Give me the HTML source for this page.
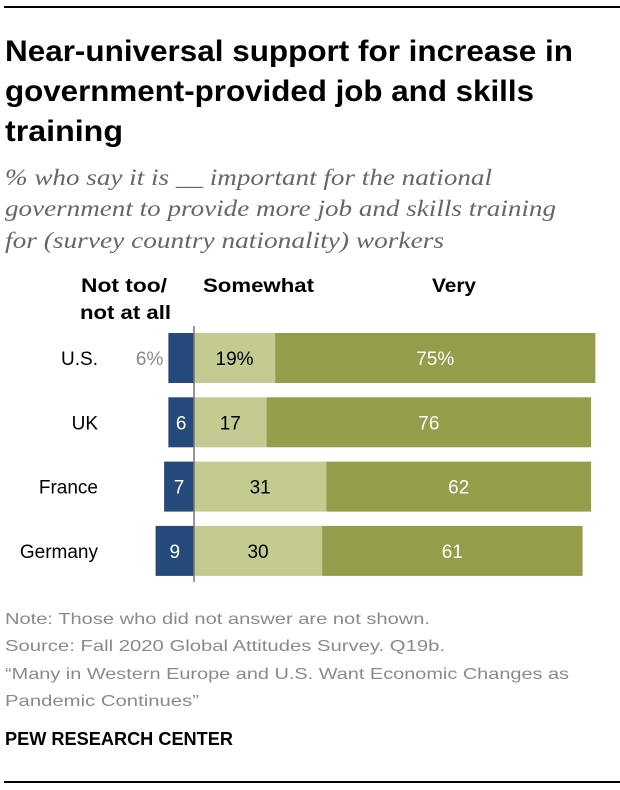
<!DOCTYPE html>
<html><head><meta charset="utf-8"><style>
body{margin:0;width:620px;height:790px;background:#fff;overflow:hidden}
svg text{font-family:"Liberation Sans",Arial,sans-serif}
</style></head><body>
<svg id="c" width="620" height="790" style="position:absolute;left:0;top:0">
<rect x="4" y="6" width="616" height="2" fill="#000"/>
<rect x="4" y="781" width="616" height="2" fill="#000"/>
<g font-size="30" font-weight="bold" fill="#000">
<text x="5" y="61" textLength="568" lengthAdjust="spacingAndGlyphs">Near-universal support for increase in</text>
<text x="5" y="101" textLength="529" lengthAdjust="spacingAndGlyphs">government-provided job and skills</text>
<text x="5" y="141" textLength="118" lengthAdjust="spacingAndGlyphs">training</text>
</g>
<g font-size="23" font-style="italic" fill="#666">
<text x="5" y="185" textLength="487" lengthAdjust="spacingAndGlyphs" style="font-family:'Liberation Serif',serif">% who say it is __ important for the national</text>
<text x="5" y="216" textLength="551" lengthAdjust="spacingAndGlyphs" style="font-family:'Liberation Serif',serif">government to provide more job and skills training</text>
<text x="5" y="248" textLength="439" lengthAdjust="spacingAndGlyphs" style="font-family:'Liberation Serif',serif">for (survey country nationality) workers</text>
</g>
<g font-size="16" fill="#8a8a8a">
<text x="5" y="624" textLength="425" lengthAdjust="spacingAndGlyphs">Note: Those who did not answer are not shown.</text>
<text x="5" y="651" textLength="440" lengthAdjust="spacingAndGlyphs">Source: Fall 2020 Global Attitudes Survey. Q19b.</text>
<text x="5" y="679" textLength="564" lengthAdjust="spacingAndGlyphs">“Many in Western Europe and U.S. Want Economic Changes as</text>
<text x="5" y="706" textLength="194" lengthAdjust="spacingAndGlyphs">Pandemic Continues”</text>
</g>
<text x="5" y="745" font-size="18" font-weight="bold" fill="#000" textLength="228" lengthAdjust="spacingAndGlyphs">PEW RESEARCH CENTER</text>
</svg>
<script>
const countries=["U.S.","UK","France","Germany"];
const notToo=[6,6,7,9];
const somewhat=[19,17,31,30];
const very=[75,76,62,61];
const svg=document.getElementById('c');
const NS='http://www.w3.org/2000/svg';
const x0=194, k=4.27, y0=333, step=64.3, h=50;
const xs=v=>v*k;
function el(t,a,txt){const e=document.createElementNS(NS,t);for(const q in a)e.setAttribute(q,a[q]);if(txt!==undefined)e.textContent=txt;svg.appendChild(e);return e;}
function hd(x,y,txt,len){const e=el('text',{x:x,y:y,'font-size':19,'font-weight':'bold',textLength:len,lengthAdjust:'spacingAndGlyphs'},txt);}
hd(81,292,'Not too/',86);hd(80,319,'not at all',91);hd(203,292,'Somewhat',111);hd(432,292,'Very',44);
countries.forEach((c,i)=>{
 const y=y0+i*step, cy=y+h/2+7;
 const l=el('text',{x:98,y:cy,'font-size':19,'text-anchor':'end'},c);
 
 
 const w1=xs(notToo[i]);
 const b1=el('rect',{x:x0-w1,y:y,width:w1,height:h,fill:'#234a7a'});
 
 
 if(i===0){el('text',{x:x0-w1-5,y:cy,'font-size':19,'text-anchor':'end',fill:'#888'},notToo[i]+'%');}
 else el('text',{x:x0-w1/2,y:cy,'font-size':19,'text-anchor':'middle',fill:'#fff'},notToo[i]);
 const w2=xs(somewhat[i]);
 const b2=el('rect',{x:x0,y:y,width:w2,height:h,fill:'#c5cb90'});
 
 
 el('text',{x:x0+w2/2,y:cy,'font-size':19,'text-anchor':'middle'},somewhat[i]+(i===0?'%':''));
 const w3=xs(very[i]);
 const b3=el('rect',{x:x0+w2,y:y,width:w3,height:h,fill:'#939d4a'});
 
 
 el('text',{x:x0+w2+w3/2,y:cy,'font-size':19,'text-anchor':'middle',fill:'#fff'},very[i]+(i===0?'%':''));
});
const ax=el('line',{x1:x0,x2:x0,y1:326,y2:y0+3*step+h+6,stroke:'#777','stroke-width':1.5});


</script>
</body></html>
